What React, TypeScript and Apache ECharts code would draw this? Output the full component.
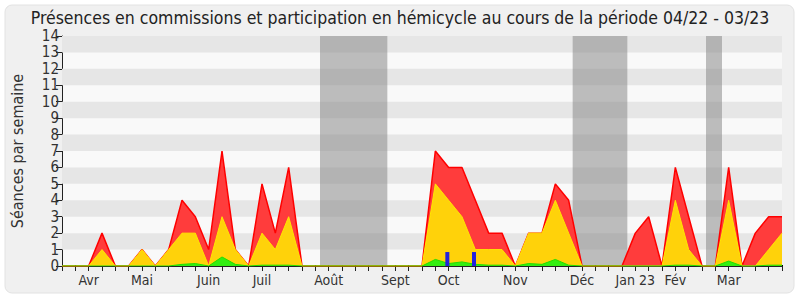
import React, { useEffect, useRef } from "react";
import * as echarts from "echarts";

const titleText = "Présences en commissions et participation en hémicycle au cours de la période 04/22 - 03/23";
const yAxisName = "Séances par semaine";

// week index -> month label
const monthIndex = [2, 6, 11, 15, 20, 25, 29, 34, 39, 43, 46, 50];
const monthLabels = ["Avr", "Mai", "Juin", "Juil", "Août", "Sept", "Oct", "Nov", "Déc", "Jan 23", "Fév", "Mar"];

// vacation periods (in week index units)
const vacStart = [19.35, 38.3, 48.3];
const vacEnd = [24.4, 42.4, 49.5];

// total presence (red)
const totalValues = [0, 0, 0, 2, 0, 0, 1, 0, 1, 4, 3, 1, 7, 1, 0, 5, 2, 6, 0, 0, 0, 0, 0, 0, 0, 0, 0, 0, 7, 6, 6, 4, 2, 2, 0, 2, 2, 5, 4, 0, 0, 0, 0, 2, 3, 0, 6, 3, 0, 0, 6, 0, 2, 3, 3];
// commissions (yellow)
const commissionValues = [0, 0, 0, 1, 0, 0, 1, 0, 1, 2, 2, 0, 3, 1, 0, 2, 1, 3, 0, 0, 0, 0, 0, 0, 0, 0, 0, 0, 5, 4, 3, 1, 1, 1, 0, 2, 2, 4, 2, 0, 0, 0, 0, 0, 0, 0, 4, 1, 0, 0, 4, 0, 0, 1, 2];
// hemicycle participation (green)
const hemicycleValues = [0, 0, 0, 0, 0, 0, 0, 0, 0, 0.1, 0.15, 0, 0.55, 0.1, 0, 0.05, 0.05, 0.05, 0, 0, 0, 0, 0, 0, 0, 0, 0, 0, 0.4, 0.15, 0.25, 0.1, 0.05, 0.05, 0, 0.15, 0.1, 0.4, 0.05, 0, 0, 0, 0, 0, 0, 0, 0.05, 0.05, 0, 0, 0.3, 0, 0, 0.05, 0.05];
// blue bars
const blueIndex = [29, 31];
const blueValues = [0.85, 0.85];

const yTicks = [0, 1, 2, 3, 4, 5, 6, 7, 8, 9, 10, 11, 12, 13, 14];

const FONT = "'DejaVu Sans Condensed', 'DejaVu Sans', sans-serif";

export default function App() {
  const ref = useRef<HTMLDivElement>(null);
  useEffect(() => {
    document.body.style.margin = "0";
    const chart = echarts.init(ref.current!, null, { renderer: "svg" });
    const pts = (vals: number[]) => vals.map((v, i) => [i, v]);
    const stripes = yTicks
      .filter((t) => t % 2 === 1)
      .map((t) => [{ yAxis: t }, { yAxis: t + 1 }]);
    const vacations = vacStart.map((s, i) => [{ xAxis: s }, { xAxis: vacEnd[i] }]);
    const labelMap: Record<number, string> = {};
    monthIndex.forEach((m, i) => (labelMap[m] = monthLabels[i]));
    const n = totalValues.length - 1;

    chart.setOption({
      animation: false,
      backgroundColor: "#ffffff",
      textStyle: { fontFamily: FONT },
      graphic: [
        {
          type: "rect",
          z: -10,
          shape: { x: 5, y: 5, width: 789, height: 288, r: 7 },
          style: { fill: "#f0f0f0", stroke: "#e2e2e2", lineWidth: 1 },
        },
      ],
      title: {
        text: titleText,
        left: "center",
        top: 9,
        padding: 0,
        textStyle: { fontFamily: FONT, fontSize: 17.5, fontWeight: "normal", color: "#222", lineHeight: 18 },
      },
      grid: {
        left: 62,
        right: 18,
        top: 36,
        bottom: 34,
        show: true,
        backgroundColor: "#f9f9f9",
        borderWidth: 0,
      },
      xAxis: [
        {
          type: "value",
          min: 0,
          max: n,
          interval: 1,
          splitLine: { show: false },
          axisLine: { show: true, onZero: false, lineStyle: { color: "#222", width: 1 } },
          axisTick: { show: true, length: 5, lineStyle: { color: "#222" } },
          axisLabel: {
            show: true,
            fontFamily: FONT,
            fontSize: 14,
            color: "#333",
            margin: 7,
            formatter: (v: number) => labelMap[v] ?? "",
          },
        },
        {
          type: "value",
          position: "top",
          min: 0,
          max: n,
          interval: 1,
          splitLine: { show: false },
          axisLine: { show: false },
          axisTick: { show: true, length: 1, lineStyle: { color: "#000" } },
          axisLabel: { show: false },
        },
      ],
      yAxis: {
        type: "value",
        min: 0,
        max: 14,
        interval: 1,
        name: yAxisName,
        nameLocation: "middle",
        nameGap: 37,
        nameTextStyle: { fontFamily: FONT, fontSize: 16, color: "#333" },
        splitLine: { show: false },
        axisLine: { show: true, lineStyle: { color: "#222", width: 1 } },
        axisTick: { show: true, length: 6, lineStyle: { color: "#222" } },
        axisLabel: { fontFamily: FONT, fontSize: 15, color: "#333", margin: 3, lineHeight: 14 },
      },
      series: [
        {
          type: "line",
          data: [],
          silent: true,
          z: 1,
          markArea: {
            silent: true,
            itemStyle: { color: "#e6e6e6" },
            data: stripes,
          },
        },
        {
          type: "line",
          data: [],
          silent: true,
          z: 2,
          markArea: {
            silent: true,
            itemStyle: { color: "rgba(128,128,128,0.5)" },
            data: vacations,
          },
        },
        {
          type: "line",
          data: pts(totalValues),
          symbol: "none",
          z: 3,
          lineStyle: { color: "#ff0000", width: 1.5 },
          areaStyle: { color: "#ff3c3c", opacity: 1 },
        },
        {
          type: "line",
          data: pts(commissionValues),
          symbol: "none",
          z: 4,
          lineStyle: { color: "#ffe600", width: 1 },
          areaStyle: { color: "#ffd20a", opacity: 1 },
        },
        {
          type: "line",
          data: pts(hemicycleValues),
          symbol: "none",
          z: 5,
          lineStyle: { color: "#22dd00", width: 1 },
          areaStyle: { color: "#33ee11", opacity: 1 },
        },
        {
          type: "bar",
          data: blueIndex.map((x, i) => [x - 0.1, blueValues[i]]),
          barWidth: 4,
          z: 6,
          itemStyle: { color: "#2222dd" },
        },
      ],
    });
    return () => chart.dispose();
  }, []);
  return <div ref={ref} style={{ width: 800, height: 300 }} />;
}
